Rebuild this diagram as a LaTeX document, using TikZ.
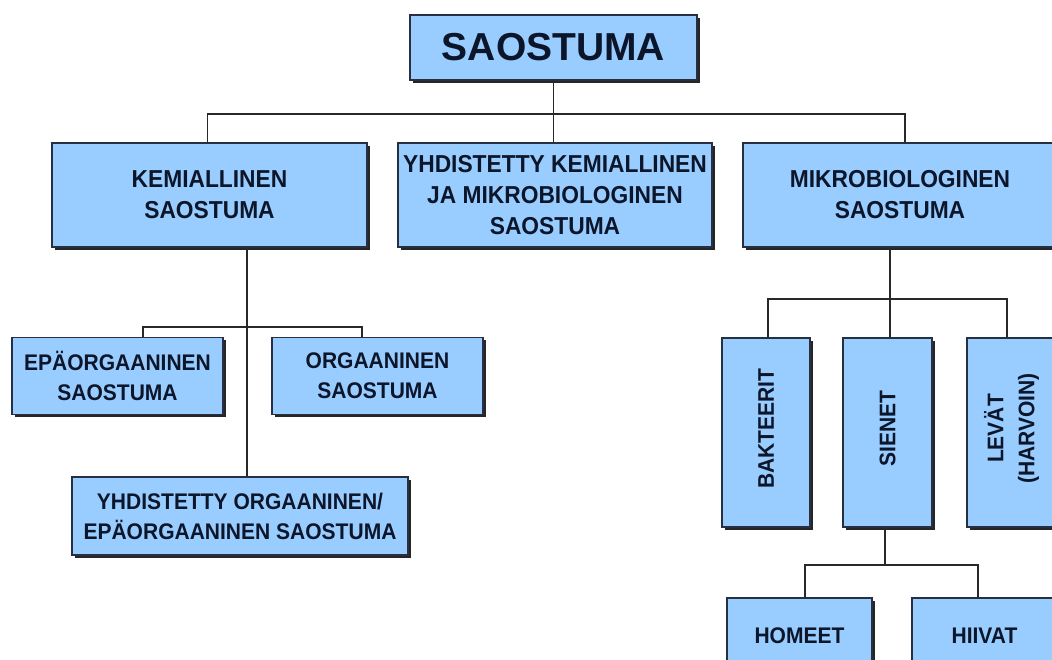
\documentclass[tikz,border=0pt]{standalone}
\usepackage{fontspec}
\setmainfont{Liberation Sans}
\newfontfamily\narrowf{Liberation Sans}[FakeStretch=0.93]
\usetikzlibrary{shadows}
\definecolor{boxfill}{RGB}{153,204,255}
\definecolor{boxline}{RGB}{38,48,66}
\definecolor{txt}{RGB}{12,22,42}
\definecolor{wire}{RGB}{40,40,40}
\tikzset{
  orgbox/.style={draw=boxline, line width=1.6pt, fill=boxfill, inner sep=0pt,
    drop shadow={shadow xshift=2.5pt, shadow yshift=-2.5pt, fill=black!85, opacity=1},
    text=txt, align=center, font=\narrowf\fontsize{22.6}{30}\selectfont\bfseries},
  lvl2/.style={orgbox, font=\narrowf\fontsize{24.5}{31}\selectfont\bfseries},
  vtext/.style={text=txt, align=center, rotate=90, font=\narrowf\fontsize{22.6}{31}\selectfont\bfseries},
  wireline/.style={draw=wire, line width=1.1pt}
}
\begin{document}
\begin{tikzpicture}[x=1pt,y=-1pt]
\useasboundingbox (0,0) rectangle (1052,659);
\clip (0,0) rectangle (1052,659);
% level 1
\node[orgbox, minimum width=287, minimum height=65, font=\fontsize{39}{40}\selectfont\bfseries] (root) at (553.5,47.5) {SAOSTUMA};
% level 2
\node[lvl2, minimum width=315, minimum height=104] (kem) at (209.5,195) {KEMIALLINEN\\SAOSTUMA};
\node[lvl2, minimum width=314, minimum height=104] (yhd) at (555,195) {YHDISTETTY KEMIALLINEN\\JA MIKROBIOLOGINEN\\SAOSTUMA};
\node[lvl2, minimum width=314, minimum height=104] (mik) at (900,195) {MIKROBIOLOGINEN\\SAOSTUMA};
% level 3 left
\node[orgbox, minimum width=211, minimum height=77] (epa) at (117.5,376) {EPÄORGAANINEN\\SAOSTUMA};
\node[orgbox, minimum width=211, minimum height=77] (org) at (377.5,376) {ORGAANINEN\\SAOSTUMA};
\node[orgbox, minimum width=336, minimum height=78] (yo) at (240,516) {YHDISTETTY ORGAANINEN/\\EPÄORGAANINEN SAOSTUMA};
% level 3 right
\node[orgbox, minimum width=88, minimum height=189] (bak) at (766,432.5) {};
\node[vtext] (bakt) at ([yshift=4pt]bak.center) {BAKTEERIT};
\node[orgbox, minimum width=89, minimum height=189] (sie) at (887.5,432.5) {};
\node[vtext] (siet) at ([yshift=4pt]sie.center) {SIENET};
\node[orgbox, minimum width=89, minimum height=189] (lev) at (1011.5,432.5) {};
\node[vtext] (levt) at ([yshift=4pt]lev.center) {LEVÄT\\(HARVOIN)};
% level 4
\node[orgbox, minimum width=145, minimum height=76] (hom) at (799.5,636) {HOMEET};
\node[orgbox, minimum width=145, minimum height=76] (hii) at (984.5,636) {HIIVAT};
% bus coordinates
\coordinate (b1) at (0,114);
\coordinate (b2) at (0,327);
\coordinate (b3) at (0,299);
\coordinate (b4) at (0,565);
\coordinate (xk) at (247,0);
\coordinate (xe) at (143,0);
\coordinate (xo) at (362,0);
\coordinate (xm) at (890,0);
\coordinate (xb) at (768,0);
\coordinate (xl) at (1007,0);
\coordinate (xs) at (885,0);
\coordinate (xh) at (805,0);
\coordinate (xi) at (978,0);
% connectors
\draw[wireline] (root.south) -- (root.south |- b1);
\draw[wireline] ([xshift=-2pt]kem.north) |- ([xshift=5pt]mik.north |- b1) -- ([xshift=5pt]mik.north);
\draw[wireline] (yhd.north -| root.south) -- (root.south |- b1);
\draw[wireline] (xk |- kem.south) -- (xk |- yo.north);
\draw[wireline] (xe |- epa.north) |- (xo |- b2) -- (xo |- org.north);
\draw[wireline] (xm |- mik.south) -- (xm |- b3);
\draw[wireline] (xb |- bak.north) |- (xl |- b3) -- (xl |- lev.north);
\draw[wireline] (xm |- b3) -- (xm |- sie.north);
\draw[wireline] (xs |- sie.south) -- (xs |- b4);
\draw[wireline] (xh |- hom.north) |- (xi |- b4) -- (xi |- hii.north);
\end{tikzpicture}
\end{document}
